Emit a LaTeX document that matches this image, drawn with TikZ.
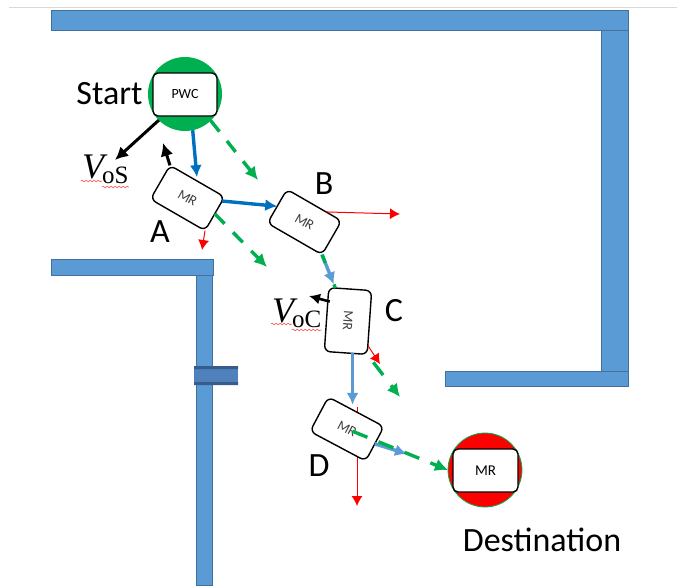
\documentclass[tikz,border=0pt]{standalone}
\usepackage{fontspec}
\setmainfont{Carlito}
\newfontfamily\timesfont{Liberation Serif}
\usepackage{tikz}
\usetikzlibrary{arrows,arrows.meta,calc,positioning,decorations.pathmorphing}
\definecolor{wallblue}{HTML}{5B9BD5}
\definecolor{walledge}{HTML}{41719C}
\definecolor{doorblue}{HTML}{4F81BD}
\definecolor{dooredge}{HTML}{385D8A}
\definecolor{darkblue}{HTML}{0070C0}
\definecolor{pathgreen}{HTML}{00B050}

\begin{document}
\begin{tikzpicture}[x=1pt,y=-1pt]
\tikzstyle{wall}=[fill=wallblue,draw=walledge,line width=0.6pt]
\tikzstyle{robot}=[draw,fill=white,line width=1.4pt,rounded corners=6pt,minimum width=63pt,minimum height=39pt,inner sep=0pt,outer sep=0pt,text=black!75,font=\fontsize{14}{15}\selectfont]
\tikzstyle{goal}=[circle,minimum size=74pt,inner sep=0pt,outer sep=0pt]
\tikzstyle{bigtext}=[inner sep=0pt,font=\fontsize{34}{36}\selectfont]
\tikzstyle{vbig}=[inner sep=0pt,anchor=base west,font=\timesfont\itshape\fontsize{36}{38}\selectfont]
\tikzstyle{vsub}=[inner sep=0pt,anchor=base west,font=\timesfont\fontsize{25}{26}\selectfont]
\tikzstyle{wavy}=[red!80,line width=0.5pt,decorate,decoration={snake,amplitude=0.8pt,segment length=4pt}]
\tikzstyle{black arrow}=[line width=3pt,-{Latex[length=13pt,width=13pt]}]
\tikzstyle{red arrow}=[red,line width=1pt,-{Latex[length=10pt,width=11pt]}]
\tikzstyle{blue arrow}=[line width=3.4pt,-{Latex[length=12pt,width=12pt]}]
\tikzstyle{green arrow}=[pathgreen,line width=3.4pt,-{Latex[length=13pt,width=13pt]}]

\useasboundingbox (0,0) rectangle (694,587);
\fill [white] (0,0) rectangle (694,587);
\draw [black!15,line width=1.4pt] (9,7.5) -- (677,7.5);

\draw [wall] (51,10) rectangle (628,30);
\draw [wall] (601,30) rectangle (628,371);
\draw [wall] (445,371) rectangle (628,386);
\draw [wall] (196,275) rectangle (212,585);
\draw [wall] (51,259) rectangle (213,275);
\fill [doorblue] (194,366) rectangle (238,385);
\fill [dooredge] (194,366) rectangle (238,369) (194,382) rectangle (238,385);

\coordinate (dtop) at (357,407);
\coordinate (dend) at (357,506);
\draw [red arrow] (dtop) -- (dend);

\node [goal,fill=pathgreen] (start) at (185,94) {};
\node [draw,fill=white,line width=1.4pt,rounded corners=5pt,minimum width=64pt,minimum height=43pt,inner sep=0pt,font=\fontsize{14}{15}\selectfont] (pwc) at (185,94.5) {PWC};
\node [goal,fill=red,draw=pathgreen,line width=0.8pt] (dest) at (485,470) {};
\node [draw,fill=white,line width=1.4pt,rounded corners=5pt,minimum width=65pt,minimum height=43pt,inner sep=0pt,font=\fontsize{15}{16}\selectfont] (destbox) at (485.5,470.5) {MR};

\node [robot,rotate=-30] (A) at (187.5,198) {MR};
\node [robot,rotate=-30] (B) at (304.5,222) {MR};
\node [robot,rotate=-94,minimum width=64pt,minimum height=43pt] (C) at (348,321) {MR};
\node [robot,rotate=-28] (D) at (347,429) {MR};

\node [bigtext] (startlbl) at (109.5,94) {Start};
\node [bigtext] (alb) at (160,232) {A};
\node [bigtext] (blb) at (324,184) {B};
\node [bigtext] (clb) at (394,311) {C};
\node [bigtext] (dlb) at (319,466) {D};
\node [bigtext] (destlbl) at (542,540) {Destination};

\node [vbig] (vs) at (82,178) {V};
\node [vsub] (os) at (102,183) {oS};
\node [vbig] (vc) at (272,322) {V};
\node [vsub] (oc) at (292,327) {oC};
\draw [wavy] ($(vs.base west)+(-1,3)$) -- ($(os.base west)+(0,-2)$);
\draw [wavy] ($(os.base west)+(0,4)$) -- ($(os.base east)+(0,4)$);
\draw [wavy] ($(vc.base west)+(-1,2)$) -- ($(oc.base west)+(0,-3)$);
\draw [wavy] ($(oc.base west)+(0,3)$) -- ($(oc.base east)+(0,3)$);

\coordinate (vosend) at (115,160);
\coordinate (vaend) at (163,143);
\coordinate (vcend) at (309,296);
\coordinate (sdash) at (258,180);
\coordinate (adash) at (267,267);
\coordinate (cdash) at (400,397);
\coordinate (ared) at (202,250);
\coordinate (bred) at (400,214);
\coordinate (cred) at (380,364);
\coordinate (dblue) at (407,454);

\draw [black arrow] (start.225) -- (vosend);
\draw [black arrow] (A.north west) -- (vaend);
\draw [black arrow,line width=2.6pt,-{Latex[length=11pt,width=11pt]}] (C.south west) ++ (1,14) -- (vcend);

\draw [blue arrow,darkblue,shorten >=4pt] (start.282) -- (A.north);
\draw [blue arrow,darkblue] (A.25) -- (B.west);

\draw [red arrow] (A.south east) -- (ared);
\draw [red arrow] (B.55) -- (bred);
\draw [red arrow] (C.43) -- (cred);

\draw [blue arrow,wallblue,shorten >=4pt] (B.south east) -- (C.205);
\draw [pathgreen,line width=3.4pt,dash pattern=on 9pt off 23pt on 8pt] (B.south east) -- (C.205);
\draw [blue arrow,wallblue,shorten >=7pt] (C.12) -- (C.12 |- D.north);
\draw [blue arrow,wallblue] (D.east) -- (dblue);

\draw [green arrow,dash pattern=on 14pt off 12pt] (start.-46) -- (sdash);
\draw [green arrow,dash pattern=on 14pt off 12pt] (A.east) -- (adash);
\draw [green arrow,dash pattern=on 16pt off 13pt,shorten <=10pt] (C.north east) -- (cdash);
\draw [green arrow,dash pattern=on 16pt off 12pt,shorten <=6pt] (D.center) -- (dest.west);
\end{tikzpicture}
\end{document}
